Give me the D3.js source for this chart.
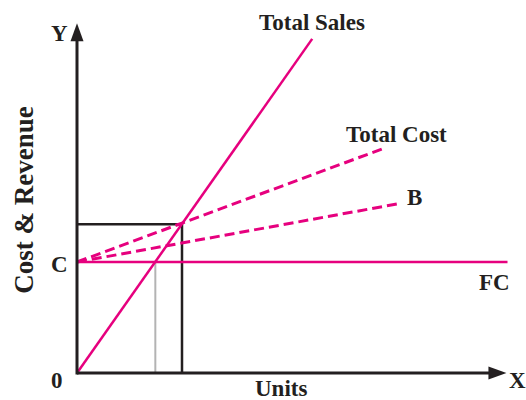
<!DOCTYPE html>
<html lang="en">
<head>
<meta charset="UTF-8">
<title>Break-even Chart</title>
<script src="https://d3js.org/d3.v7.min.js"></script>
<style>
  body { margin: 0; background: #fff; }
  svg { display: block; }
  .lbl { font-family: "Liberation Serif", "Times New Roman", serif; font-weight: bold; fill: #231f20; }
</style>
</head>
<body>
<div id="chart"></div>
<script>
// Lines of the break-even chart (units, money)
const totalSales = [[0, 0], [22.4, 301]];
const totalCost = [[0, 100], [29.1, 202]];
const lineB = [[0, 100], [30.9, 153]];
const fixedCost = [[0, 100], [41, 100]];
const boxPoint = [10, 134];          // where total cost meets total sales
const breakEven = [7.46, 100];       // where sales meet fixed cost
const axisMax = { x: 40.9, y: 315 };

const width = 526, height = 400;
const ink = '#231f20', pink = '#e6007e';

const svg = d3.select('#chart').append('svg')
  .attr('width', width).attr('height', height);

const x = d3.scaleLinear().domain([0, 41]).range([77, 507.5]);
const y = d3.scaleLinear().domain([0, 300]).range([373, 40]);

const line = d3.line().x(d => x(d[0])).y(d => y(d[1]));

// break-even guides
svg.append('line')
  .attr('x1', x(breakEven[0])).attr('x2', x(breakEven[0]))
  .attr('y1', y(breakEven[1])).attr('y2', y(0))
  .attr('stroke', '#b3b3b3').attr('stroke-width', 2);

svg.append('path')
  .attr('d', line([[0, boxPoint[1]], boxPoint, [boxPoint[0], 0]]))
  .attr('fill', 'none').attr('stroke', ink).attr('stroke-width', 2.5);

// cost and revenue lines
svg.append('path').attr('d', line(fixedCost))
  .attr('fill', 'none').attr('stroke', pink).attr('stroke-width', 2.5);

[totalCost, lineB].forEach(d => {
  svg.append('path').attr('d', line(d))
    .attr('fill', 'none').attr('stroke', pink).attr('stroke-width', 3)
    .attr('stroke-dasharray', '10,5');
});

svg.append('path').attr('d', line(totalSales))
  .attr('fill', 'none').attr('stroke', pink).attr('stroke-width', 2.5);

// axes with arrow heads
const ox = x(0), oy = y(0);
const xEnd = x(axisMax.x), yEnd = y(axisMax.y);
svg.append('line').attr('x1', ox).attr('x2', xEnd - 16).attr('y1', oy).attr('y2', oy)
  .attr('stroke', ink).attr('stroke-width', 3);
svg.append('line').attr('x1', ox).attr('x2', ox).attr('y1', oy + 1.5).attr('y2', yEnd + 16)
  .attr('stroke', ink).attr('stroke-width', 3);
svg.append('path')
  .attr('d', `M${xEnd},${oy} L${xEnd - 18},${oy - 6.5} L${xEnd - 18},${oy + 6.5} Z`)
  .attr('fill', ink);
svg.append('path')
  .attr('d', `M${ox},${yEnd} L${ox - 6.5},${yEnd + 18} L${ox + 6.5},${yEnd + 18} Z`)
  .attr('fill', ink);

// labels
const labels = [
  { t: 'Total Sales', x: 259, y: 30 },
  { t: 'Total Cost', x: 346, y: 142 },
  { t: 'B', x: 407, y: 205 },
  { t: 'FC', x: 479, y: 290 },
  { t: 'X', x: 509, y: 388 },
  { t: 'Y', x: 51, y: 41 },
  { t: 'C', x: 51, y: 272 },
  { t: '0', x: 51, y: 388 },
  { t: 'Units', x: 255, y: 396 }
];
svg.selectAll('text.pt').data(labels).enter().append('text')
  .attr('class', 'lbl pt')
  .attr('x', d => d.x).attr('y', d => d.y)
  .style('font-size', '23px')
  .text(d => d.t);

svg.append('text')
  .attr('class', 'lbl')
  .attr('transform', 'translate(33,200) rotate(-90)')
  .attr('text-anchor', 'middle')
  .style('font-size', '27px')
  .text('Cost & Revenue');
</script>
</body>
</html>
